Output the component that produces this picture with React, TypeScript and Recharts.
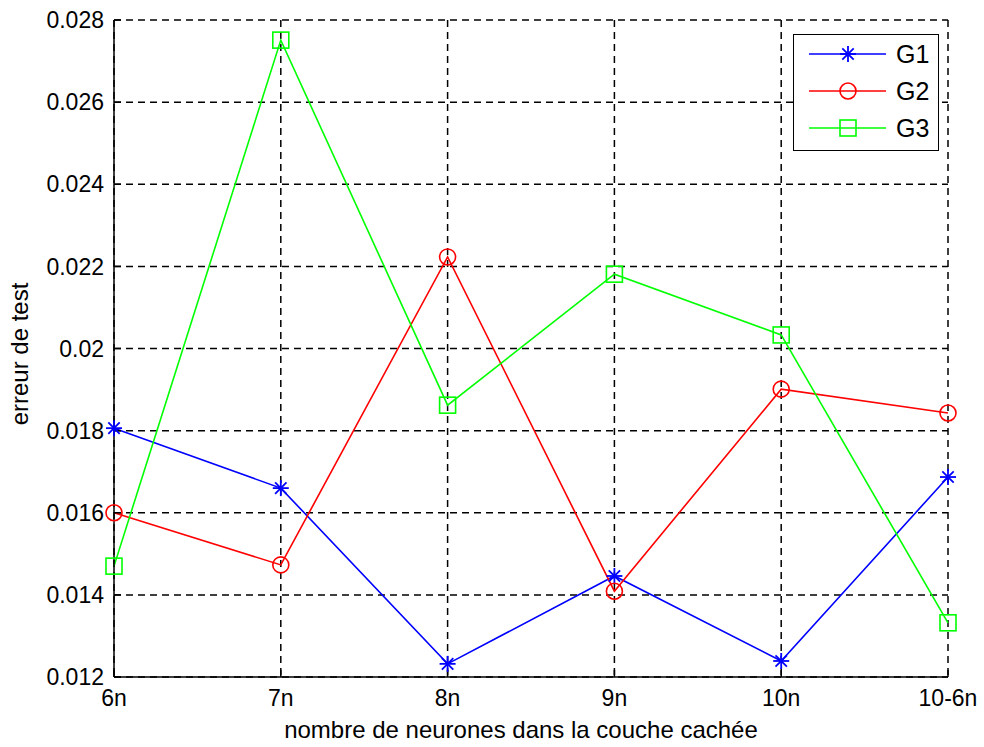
import React from 'react';
import { LineChart, Line, XAxis, YAxis, CartesianGrid, Legend } from 'recharts';

const categories = ['6n', '7n', '8n', '9n', '10n', '10-6n'];
const g1 = [0.01806, 0.0166, 0.01232, 0.01446, 0.01239, 0.01687];
const g2 = [0.016, 0.01473, 0.02223, 0.01409, 0.01901, 0.01843];
const g3 = [0.0147, 0.02751, 0.01862, 0.02181, 0.02033, 0.01332];
const yTicks = [0.012, 0.014, 0.016, 0.018, 0.02, 0.022, 0.024, 0.026, 0.028];
const seriesNames = ['G1', 'G2', 'G3'];
const seriesColors = ['#0000ff', '#ff0000', '#00ff00'];
const seriesMarkers = ['star', 'circle', 'square'];
const xLabel = 'nombre de neurones dans la couche cachée';
const yLabel = 'erreur de test';

const data = categories.map((c, i) => ({ cat: c, G1: g1[i], G2: g2[i], G3: g3[i] }));

const FONT = '"Liberation Sans", Arial, Helvetica, sans-serif';

function Marker({ type, cx, cy, color }: { type: string; cx: number; cy: number; color: string }) {
  if (type === 'star') {
    const r = 8;
    const d = 5.7;
    return (
      <g stroke={color} strokeWidth={1.8}>
        <line x1={cx - r} y1={cy} x2={cx + r} y2={cy} />
        <line x1={cx} y1={cy - r} x2={cx} y2={cy + r} />
        <line x1={cx - d} y1={cy - d} x2={cx + d} y2={cy + d} />
        <line x1={cx - d} y1={cy + d} x2={cx + d} y2={cy - d} />
      </g>
    );
  }
  if (type === 'circle') {
    return <circle cx={cx} cy={cy} r={8} fill="none" stroke={color} strokeWidth={1.6} />;
  }
  return <rect x={cx - 8} y={cy - 8} width={16} height={16} fill="none" stroke={color} strokeWidth={1.6} />;
}

function makeDot(idx: number) {
  return (props: any) => {
    const { cx, cy, key, index } = props;
    if (cx == null || cy == null) return <g key={key ?? index} />;
    return (
      <g key={key ?? `d-${idx}-${index}`}>
        <Marker type={seriesMarkers[idx]} cx={cx} cy={cy} color={seriesColors[idx]} />
      </g>
    );
  };
}

function LegendBox() {
  const w = 146;
  const h = 117;
  return (
    <div
      style={{
        width: w,
        height: h,
        border: '1.5px solid #000',
        background: '#fff',
        boxSizing: 'border-box',
        position: 'relative',
      }}
    >
      <svg width={w - 3} height={h - 3} style={{ position: 'absolute', left: 0, top: 0 }}>
        {seriesNames.map((n, i) => {
          const y = 19 + i * 37;
          return (
            <g key={n}>
              <line x1={15} y1={y} x2={92} y2={y} stroke={seriesColors[i]} strokeWidth={1.6} />
              <Marker type={seriesMarkers[i]} cx={54} cy={y} color={seriesColors[i]} />
              <text x={102} y={y + 9} fontSize={25} fontFamily={FONT} fill="#000">
                {n}
              </text>
            </g>
          );
        })}
      </svg>
    </div>
  );
}

const fmt = (v: number) => String(Number(v.toFixed(3)));

export default function App() {
  const axisLine = { stroke: '#000', strokeWidth: 1.5 };
  return (
    <div style={{ position: 'absolute', left: 0, top: 0, background: '#fff' }}>
      <LineChart
        width={984}
        height={747}
        data={data}
        margin={{ top: 20, right: 36, bottom: 0, left: 0 }}
        style={{ fontFamily: FONT, background: '#fff' }}
      >
        <CartesianGrid stroke="#000" strokeWidth={1.5} strokeDasharray="7 5" />
        <XAxis
          dataKey="cat"
          height={70}
          axisLine={axisLine}
          tickLine={{ stroke: '#000', strokeWidth: 1.5 }}
          tickSize={-7}
          tickMargin={20}
          tick={{ fontSize: 23, fill: '#000', fontFamily: FONT }}
          interval={0}
          label={{
            content: () => (
              <text x={521} y={738} textAnchor="middle" fontSize={24} fontFamily={FONT} fill="#000">
                {xLabel}
              </text>
            ),
          }}
        />
        <XAxis
          xAxisId="top"
          dataKey="cat"
          orientation="top"
          height={0}
          axisLine={axisLine}
          tick={false}
          tickLine={false}
        />
        <YAxis
          type="number"
          domain={[0.012, 0.028]}
          ticks={yTicks}
          allowDataOverflow
          width={114}
          axisLine={axisLine}
          tickLine={{ stroke: '#000', strokeWidth: 1.5 }}
          tickSize={-7}
          tickMargin={17}
          tickFormatter={fmt}
          tick={{ fontSize: 23, fill: '#000', fontFamily: FONT }}
          interval={0}
          label={{
            content: () => (
              <text
                x={28}
                y={354}
                transform="rotate(-90 28 354)"
                textAnchor="middle"
                fontSize={24}
                fontFamily={FONT}
                fill="#000"
              >
                {yLabel}
              </text>
            ),
          }}
        />
        <YAxis
          yAxisId="right"
          orientation="right"
          type="number"
          domain={[0.012, 0.028]}
          width={0}
          axisLine={axisLine}
          tick={false}
          tickLine={false}
        />
        {seriesNames.map((n, i) => (
          <Line
            key={n}
            type="linear"
            dataKey={n}
            name={n}
            stroke={seriesColors[i]}
            strokeWidth={1.6}
            dot={makeDot(i)}
            activeDot={false}
            isAnimationActive={false}
          />
        ))}
        <Legend
          layout="vertical"
          align="center"
          verticalAlign="middle"
          wrapperStyle={{ position: 'absolute', left: 793, top: 34, width: 146, height: 117 }}
          content={() => <LegendBox />}
        />
      </LineChart>
    </div>
  );
}
